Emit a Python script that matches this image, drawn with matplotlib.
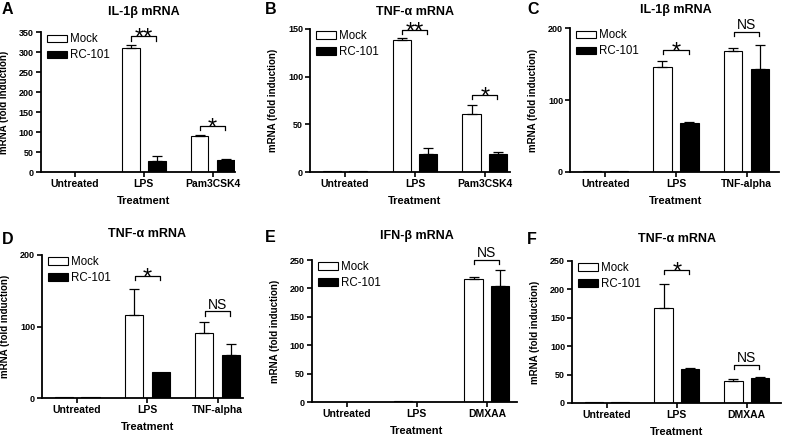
import matplotlib
matplotlib.use("Agg")
import matplotlib.pyplot as plt
import matplotlib.transforms as mtransforms
import numpy as np

plt.rcParams["font.family"] = ["Liberation Sans", "DejaVu Sans"]

# ---- data ----
cats_A = ["Untreated", "LPS", "Pam3CSK4"]
mock_A = [1, 312, 91]
mock_err_A = [0, 5.5, 1.5]
rc_A = [0.5, 29, 31]
rc_err_A = [0, 13, 3.5]
yticks_A = [0, 50, 100, 150, 200, 250, 300, 350]
sig_A = [(1, "**", 340), (2, "*", 116)]

cats_B = ["Untreated", "LPS", "Pam3CSK4"]
mock_B = [1, 138, 61]
mock_err_B = [0, 2.4, 9]
rc_B = [1, 19, 19]
rc_err_B = [0, 6, 2]
yticks_B = [0, 50, 100, 150]
sig_B = [(1, "**", 149), (2, "*", 81)]

cats_C = ["Untreated", "LPS", "TNF-alpha"]
mock_C = [1, 146, 168]
mock_err_C = [0, 8, 5]
rc_C = [0.5, 68, 143]
rc_err_C = [0, 1, 34]
yticks_C = [0, 100, 200]
sig_C = [(1, "*", 170), (2, "NS", 195)]

cats_D = ["Untreated", "LPS", "TNF-alpha"]
mock_D = [1, 116, 91]
mock_err_D = [0, 37, 15]
rc_D = [1, 37, 60]
rc_err_D = [0, 0, 16]
yticks_D = [0, 100, 200]
sig_D = [(1, "*", 171), (2, "NS", 121)]

cats_E = ["Untreated", "LPS", "DMXAA"]
mock_E = [0.5, 1, 216]
mock_err_E = [0, 0, 4]
rc_E = [0.5, 0.5, 204]
rc_err_E = [0, 0, 29]
yticks_E = [0, 50, 100, 150, 200, 250]
sig_E = [(2, "NS", 250)]

cats_F = ["Untreated", "LPS", "DMXAA"]
mock_F = [1, 167, 38]
mock_err_F = [0, 42, 3.5]
rc_F = [1.5, 59, 44]
rc_err_F = [0, 3, 2]
yticks_F = [0, 50, 100, 150, 200, 250]
sig_F = [(1, "*", 234), (2, "NS", 67)]

titles = ["IL-1β mRNA", "TNF-α mRNA", "IL-1β mRNA",
          "TNF-α mRNA", "IFN-β mRNA", "TNF-α mRNA"]
letters = ["A", "B", "C", "D", "E", "F"]
series = ["Mock", "RC-101"]

W, H = 786, 438
# axes boxes in pixels: left, top, right, bottom ; and right x-limit
boxes = [(40.7, 32.3, 234.6, 172.3), (310, 29, 510, 172), (570, 28.3, 779, 171.7),
         (42, 255, 243, 398), (311.5, 260, 517, 402), (572, 261, 781, 403)]
xright = [2.32, 2.36, 2.46, 2.36, 2.43, 2.49]
letter_pos = [(2, 10), (265, 9), (527, 10), (2, 240), (265, 238), (527, 240)]
title_y = [12, 12, 10, 234, 236, 239]

panels = [
    (cats_A, mock_A, mock_err_A, rc_A, rc_err_A, yticks_A, sig_A),
    (cats_B, mock_B, mock_err_B, rc_B, rc_err_B, yticks_B, sig_B),
    (cats_C, mock_C, mock_err_C, rc_C, rc_err_C, yticks_C, sig_C),
    (cats_D, mock_D, mock_err_D, rc_D, rc_err_D, yticks_D, sig_D),
    (cats_E, mock_E, mock_err_E, rc_E, rc_err_E, yticks_E, sig_E),
    (cats_F, mock_F, mock_err_F, rc_F, rc_err_F, yticks_F, sig_F),
]

fig = plt.figure(figsize=(W / 100, H / 100), dpi=100)

BW = 0.26
OFF = 0.19

for i, (cats, mock, mock_err, rc, rc_err, yticks, sig) in enumerate(panels):
    l, t, r, b = boxes[i]
    ax = fig.add_axes([l / W, 1 - b / H, (r - l) / W, (b - t) / H])
    x = np.arange(len(cats))
    ax.set_xlim(-0.5, xright[i])
    ax.set_ylim(0, yticks[-1])

    b1 = ax.bar(x - OFF, mock, BW, color="white", edgecolor="black", linewidth=0.8)
    b2 = ax.bar(x + OFF, rc, BW, color="black", edgecolor="black", linewidth=0.8)
    for xs, vals, errs in ((x - OFF, mock, mock_err), (x + OFF, rc, rc_err)):
        errs = np.array(errs, dtype=float)
        m = errs > 0
        ax.errorbar(xs[m], np.array(vals)[m],
                    yerr=[np.zeros(m.sum()), errs[m]], fmt="none",
                    ecolor="black", elinewidth=0.9, capsize=3.5, capthick=0.9)

    ymax = yticks[-1]
    for g, label, y in sig:
        d = 0.03 * ymax
        ax.plot([g - 0.18, g - 0.18, g + 0.18, g + 0.18], [y - d, y, y, y - d],
                color="black", lw=0.9, clip_on=False)
        if label == "NS":
            ax.annotate(label, (g, y), xytext=(0, 2), textcoords="offset points",
                        ha="center", va="baseline", fontsize=10, clip_on=False)
        else:
            ax.annotate(label, (g, y), xytext=(0, -6), textcoords="offset points",
                        ha="center", va="baseline", fontsize=17, clip_on=False)

    ax.set_xticks(x)
    ax.set_xticklabels(cats, fontsize=7.5, fontweight="bold")
    ax.set_yticks(yticks)
    ax.set_yticklabels([str(v) for v in yticks], fontsize=6.5, fontweight="bold")
    ax.tick_params(direction="out", length=3.5, width=1.2, pad=1.5)
    for s in ("top", "right"):
        ax.spines[s].set_visible(False)
    for s in ("left", "bottom"):
        ax.spines[s].set_linewidth(1.3)

    ax.set_ylabel("mRNA (fold induction)", fontsize=7, fontweight="bold")
    ax.yaxis.set_label_coords(-32 / (r - l), 0.5)
    ax.yaxis.label.set_horizontalalignment("center")
    ax.set_xlabel("Treatment", fontsize=8, fontweight="bold")
    ax.xaxis.set_label_coords(1, -29 / (b - t),
                              transform=mtransforms.blended_transform_factory(ax.transData, ax.transAxes))
    ax.xaxis.label.set_verticalalignment("center")

    ax.text(1, 1 - title_y[i] / H, titles[i], fontsize=9, fontweight="bold",
            ha="center", va="center",
            transform=mtransforms.blended_transform_factory(ax.transData, fig.transFigure))
    lx, ly = letter_pos[i]
    fig.text(lx / W, 1 - ly / H, letters[i], fontsize=11.5, fontweight="bold",
             ha="left", va="center")

    ax.legend([b1, b2], series, loc="upper left", frameon=False, fontsize=8.3,
              bbox_to_anchor=((l + 6) / W, 1 - (t + 1) / H), bbox_transform=fig.transFigure,
              borderaxespad=0, borderpad=0, handlelength=1.75, handleheight=0.6,
              handletextpad=0.25, labelspacing=0.35)

fig.savefig("out.png", dpi=100)
